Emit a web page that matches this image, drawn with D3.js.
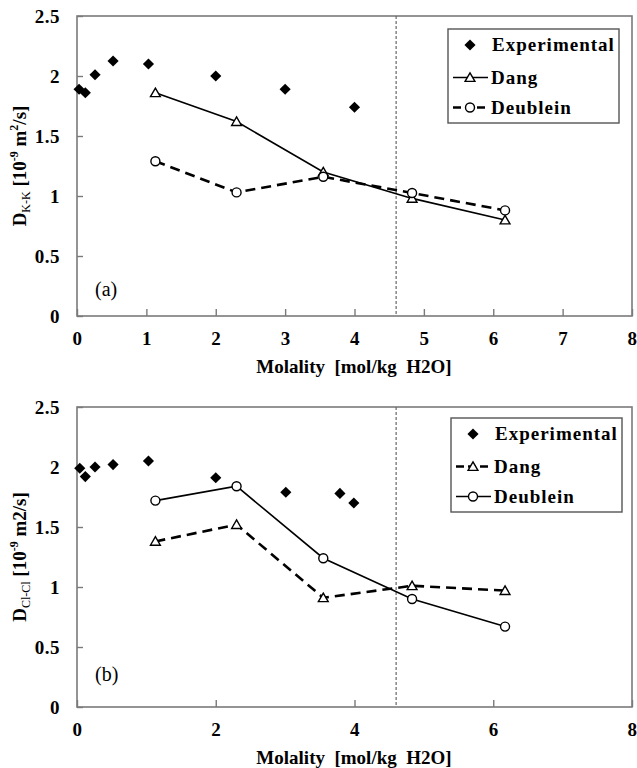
<!DOCTYPE html>
<html lang="en">

<head>
    <meta charset="UTF-8">
    <script src="https://cdn.jsdelivr.net/npm/d3@7"></script>
    <title>Self diffusion K-K and Cl-Cl</title>
    <style>
        body {
            margin: 0;
            background: white;
        }
        svg {
            display: block;
        }
        svg text {
            font-family: "Liberation Serif", "Times New Roman", serif;
        }
        .tick-label {
            font-size: 19px;
            font-weight: bold;
            letter-spacing: 0.5px;
        }
    </style>
</head>

<body>
    <script>
        /*-------------------------------------------------------*/
        /*------------------------ Data -------------------------*/
        /*-------------------------------------------------------*/
        const xTicksA = [0, 1, 2, 3, 4, 5, 6, 7, 8];
        const xTicksB = [0, 2, 4, 6, 8];
        const yTicks = [0, 0.5, 1, 1.5, 2, 2.5];
        const legendNames = ["Experimental", "Dang", "Deublein"];
        const solubilityLimit = 4.6;

        // panel (a) K-K
        const molalityExpA = [0.03, 0.12, 0.26, 0.52, 1.03, 2.0, 3.0, 4.0];
        const expA = [1.89, 1.86, 2.01, 2.125, 2.10, 2.0, 1.89, 1.74];
        const molalityModel = [1.13, 2.3, 3.55, 4.83, 6.17];
        const dangA = [1.86, 1.62, 1.20, 0.98, 0.80];
        const deubleinA = [1.29, 1.03, 1.16, 1.025, 0.88];

        // panel (b) Cl-Cl
        const molalityExpB = [0.04, 0.12, 0.26, 0.52, 1.03, 2.0, 3.01, 3.79, 3.99];
        const expB = [1.99, 1.92, 2.0, 2.02, 2.05, 1.91, 1.79, 1.78, 1.70];
        const dangB = [1.38, 1.52, 0.91, 1.01, 0.97];
        const deubleinB = [1.72, 1.84, 1.24, 0.90, 0.67];

        /*-------------------------------------------------------*/
        /*----------------------- Setup -------------------------*/
        /*-------------------------------------------------------*/
        const width = 637, height = 768;
        const svg = d3.select("body").append("svg")
            .attr("width", width)
            .attr("height", height);

        const dashed = "10,6";
        const frameColor = "#7a7a7a";

        const diamond = d3.symbol().type(d3.symbolSquare).size(62);
        const triangle = d3.symbol().type(d3.symbolTriangle).size(42);

        function drawMarker(g, type, x, y) {
            if (type === "diamond") {
                g.append("path")
                    .attr("d", diamond())
                    .attr("transform", `translate(${x},${y}) rotate(45)`)
                    .attr("fill", "black");
            } else if (type === "triangle") {
                g.append("path")
                    .attr("d", triangle())
                    .attr("transform", `translate(${x},${y + 1})`)
                    .attr("fill", "white")
                    .attr("stroke", "black")
                    .attr("stroke-width", 1.4);
            } else {
                g.append("circle")
                    .attr("cx", x).attr("cy", y).attr("r", 4.5)
                    .attr("fill", "white")
                    .attr("stroke", "black")
                    .attr("stroke-width", 1.4);
            }
        }

        /*-------------------------------------------------------*/
        /*---------------------- Panels -------------------------*/
        /*-------------------------------------------------------*/
        function drawPanel(p) {
            const x = d3.scaleLinear().domain([0, 8]).range([77, 632]);
            const y = d3.scaleLinear().domain([0, 2.5]).range([p.bottom, p.bottom - 300]);
            const g = svg.append("g");

            // frame
            g.append("rect")
                .attr("x", x(0)).attr("y", y(2.5))
                .attr("width", x(8) - x(0)).attr("height", y(0) - y(2.5))
                .attr("fill", "none")
                .attr("stroke", frameColor)
                .attr("stroke-width", 1.6);

            // x axis (ticks point inside)
            const xAxis = g.append("g")
                .attr("transform", `translate(0,${y(0)})`)
                .call(d3.axisBottom(x).tickValues(p.xTicks).tickSize(-7).tickPadding(16).tickFormat(d3.format("d")))
                .attr("font-family", null).attr("font-size", null);
            xAxis.select(".domain").remove();
            xAxis.selectAll("line").attr("stroke", frameColor).attr("stroke-width", 1.4);
            xAxis.selectAll("text").attr("class", "tick-label").attr("fill", "black");

            // y axis
            const yAxis = g.append("g")
                .attr("transform", `translate(${x(0)},0)`)
                .call(d3.axisLeft(y).tickValues(yTicks).tickSize(-6).tickPadding(17).tickFormat(d => d))
                .attr("font-family", null).attr("font-size", null);
            yAxis.select(".domain").remove();
            yAxis.selectAll("line").attr("stroke", frameColor).attr("stroke-width", 1.4);
            yAxis.selectAll("text").attr("class", "tick-label").attr("fill", "black");

            // solubility limit
            g.append("line")
                .attr("x1", x(solubilityLimit)).attr("x2", x(solubilityLimit))
                .attr("y1", y(2.5)).attr("y2", y(0))
                .attr("stroke", "#666")
                .attr("stroke-width", 1.2)
                .attr("stroke-dasharray", "3,2");

            // axis titles
            g.append("text")
                .attr("x", 354).attr("y", y(0) + 57)
                .attr("text-anchor", "middle")
                .attr("font-size", 19).attr("font-weight", "bold")
                .attr("xml:space", "preserve")
                .text("Molality  [mol/kg  H2O]");

            const yt = g.append("text")
                .attr("transform", `translate(26,${y(1.25)}) rotate(-90)`)
                .attr("text-anchor", "middle")
                .attr("font-size", 19).attr("font-weight", "bold");
            yt.append("tspan").text("D");
            yt.append("tspan").attr("font-size", 12).attr("font-weight", "normal").attr("dy", 4).text(p.sub);
            yt.append("tspan").attr("dy", -4).text(" [10");
            yt.append("tspan").attr("font-size", 12).attr("dy", -8).text("-9");
            yt.append("tspan").attr("dy", 8).text(" m");
            if (p.sq) {
                yt.append("tspan").attr("font-size", 12).attr("dy", -8).text("2");
                yt.append("tspan").attr("dy", 8).text("/s]");
            } else {
                yt.append("tspan").text("2/s]");
            }

            // panel letter
            g.append("text")
                .attr("x", 95).attr("y", y(0) - p.letterUp)
                .attr("font-size", 20)
                .text(p.letter);

            // model lines
            const line = d3.line().x(d => x(d[0])).y(d => y(d[1]));
            const dangPts = molalityModel.map((m, i) => [m, p.dang[i]]);
            const deubPts = molalityModel.map((m, i) => [m, p.deub[i]]);

            g.append("path")
                .attr("d", line(p.dangDashed ? dangPts : deubPts))
                .attr("fill", "none").attr("stroke", "black")
                .attr("stroke-width", 2.6).attr("stroke-dasharray", dashed);
            g.append("path")
                .attr("d", line(p.dangDashed ? deubPts : dangPts))
                .attr("fill", "none").attr("stroke", "black")
                .attr("stroke-width", 1.6);

            dangPts.forEach(d => drawMarker(g, "triangle", x(d[0]), y(d[1])));
            deubPts.forEach(d => drawMarker(g, "circle", x(d[0]), y(d[1])));
            p.expX.forEach((m, i) => drawMarker(g, "diamond", x(m), y(p.exp[i])));

            // legend
            const lg = g.append("g").attr("transform", `translate(${p.legend[0]},${p.legend[1]})`);
            lg.append("rect")
                .attr("width", 171).attr("height", 94)
                .attr("fill", "white")
                .attr("stroke", "#555").attr("stroke-width", 1.4);
            const rows = [16, 48.5, 78.5];
            legendNames.forEach((name, i) => {
                const ry = rows[i];
                if (i > 0) {
                    const isDashed = (i === 1) === p.dangDashed;
                    lg.append("line")
                        .attr("x1", 5).attr("x2", 40)
                        .attr("y1", ry).attr("y2", ry)
                        .attr("stroke", "black")
                        .attr("stroke-width", isDashed ? 2.6 : 1.6)
                        .attr("stroke-dasharray", isDashed ? "8,4" : null);
                }
                drawMarker(lg, ["diamond", "triangle", "circle"][i], 22, ry);
                lg.append("text")
                    .attr("x", i === 0 ? 44 : 43).attr("y", ry + 6)
                    .attr("font-size", 19).attr("font-weight", "bold")
                    .attr("letter-spacing", 1)
                    .text(name);
            });
        }

        drawPanel({
            bottom: 316, xTicks: xTicksA, sub: "K-K", sq: true, letter: "(a)", letterUp: 20,
            expX: molalityExpA, exp: expA, dang: dangA, deub: deubleinA,
            dangDashed: false, legend: [448, 29]
        });
        drawPanel({
            bottom: 707, xTicks: xTicksB, sub: "Cl-Cl", sq: false, letter: "(b)", letterUp: 26,
            expX: molalityExpB, exp: expB, dang: dangB, deub: deubleinB,
            dangDashed: true, legend: [451, 418]
        });
    </script>
</body>

</html>
